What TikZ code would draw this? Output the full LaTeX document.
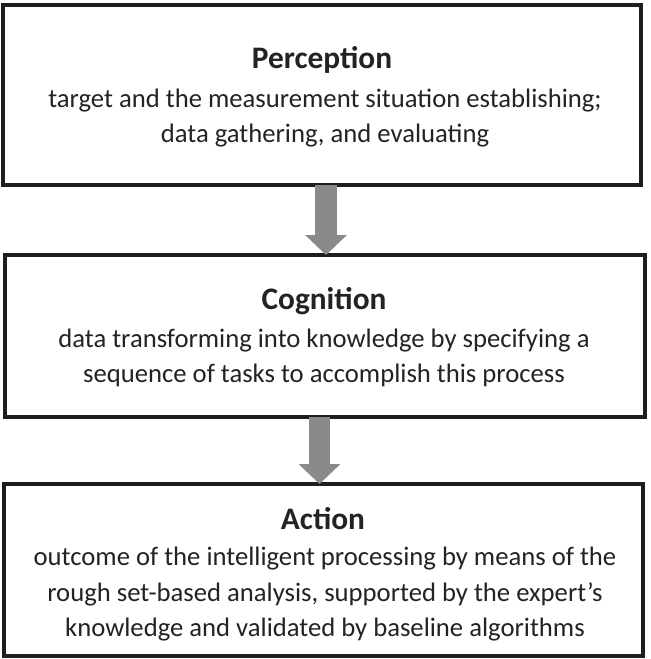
\documentclass[tikz,border=0pt]{standalone}
\usepackage{fontspec}
\setmainfont{Carlito}
\usetikzlibrary{arrows.meta}
\definecolor{arrowgray}{RGB}{138,138,140}
\definecolor{boxline}{RGB}{30,30,30}
\definecolor{txt}{RGB}{35,35,35}
\tikzset{
  box/.style={draw=boxline, line width=2.8pt, fill=white, inner sep=0pt, outer sep=0pt},
  title/.style={font=\fontsize{23.5}{28}\selectfont\bfseries, text=txt, anchor=base},
  body/.style={font=\fontsize{20}{26.3}\selectfont, text=txt, anchor=base, align=center},
  flow/.style={draw=arrowgray, line width=16pt, -{Triangle[width=30.5pt,length=15pt,fill=arrowgray]}}
}
\begin{document}
\begin{tikzpicture}[x=0.75pt,y=-0.75pt]
\useasboundingbox (0,0) rectangle (650,659);
% boxes
\node[box, minimum width=478.5pt, minimum height=135pt] (B1) at (322,95) {};
\node[box, minimum width=480pt, minimum height=121.5pt] (B2) at (325,336) {};
\node[box, minimum width=479.25pt, minimum height=129pt] (B3) at (323.5,570) {};
\coordinate (x1) at (326,0);
\coordinate (x2) at (319.5,0);
% arrows
\draw[flow] (B1.south -| x1) -- (B2.north -| x1);
\draw[flow] (B2.south -| x2) -- (B3.north -| x2);
% texts
\node[title] (t1) at (322,69) {Perception};
\node[body] (p1) at (325,108) {target and the measurement situation establishing;};
\node[body] (p2) at (325,143) {data gathering, and evaluating};
\node[title] (t2) at (324,309) {Cognition};
\node[body] (c1) at (324,347) {data transforming into knowledge by specifying a};
\node[body] (c2) at (324,382) {sequence of tasks to accomplish this process};
\node[title] (t3) at (323,529) {Action};
\node[body] (a1) at (325,565) {outcome of the intelligent processing by means of the};
\node[body] (a2) at (325,601) {rough set-based analysis, supported by the expert’s};
\node[body] (a3) at (325,636) {knowledge and validated by baseline algorithms};
\end{tikzpicture}
\end{document}
